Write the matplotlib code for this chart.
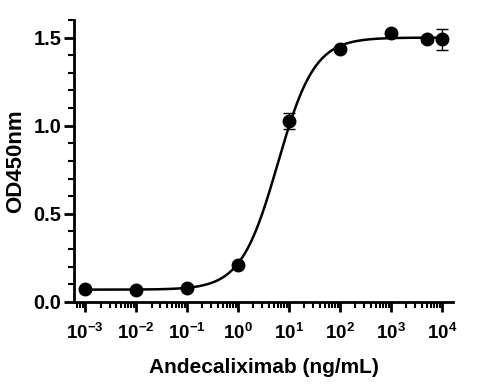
import numpy as np
import matplotlib
matplotlib.use("Agg")
import matplotlib.pyplot as plt
from matplotlib.ticker import LogLocator, MultipleLocator, NullFormatter, FixedLocator

conc = [1e-3, 1e-2, 1e-1, 1e0, 1e1, 1e2, 1e3, 5e3, 1e4]
od = [0.075, 0.070, 0.082, 0.212, 1.025, 1.435, 1.525, 1.490, 1.490]
err = [0.0, 0.0, 0.0, 0.0, 0.045, 0.0, 0.0, 0.015, 0.06]

# 4PL fit parameters
fit_bottom = 0.07
fit_top = 1.50
fit_ec50 = 6.0
fit_hill = 1.2

xtick_vals = [1e-3, 1e-2, 1e-1, 1e0, 1e1, 1e2, 1e3, 1e4]
xtick_labels = ['$10^{-3}$', '$10^{-2}$', '$10^{-1}$', '$10^{0}$',
                '$10^{1}$', '$10^{2}$', '$10^{3}$', '$10^{4}$']
ytick_vals = [0, 0.5, 1.0, 1.5]
ytick_labels = ['0.0', '0.5', '1.0', '1.5']

plt.rcParams['font.family'] = ['Liberation Sans', 'DejaVu Sans']
plt.rcParams['mathtext.fontset'] = 'custom'
plt.rcParams['mathtext.rm'] = 'Liberation Sans:bold'
plt.rcParams['mathtext.bf'] = 'Liberation Sans:bold'
plt.rcParams['mathtext.default'] = 'bf'

fig = plt.figure(figsize=(4.79, 3.89), dpi=100)
ax = fig.add_axes([0.1545, 0.2237, 0.7915, 0.725])

xs = np.logspace(-3, 4, 400)
ys = fit_bottom + (fit_top - fit_bottom) / (1 + (fit_ec50 / xs) ** fit_hill)
ax.plot(xs, ys, color='black', lw=1.8, zorder=2)
ax.errorbar(conc, od, yerr=err, fmt='o', color='black', ms=9, capsize=4,
            elinewidth=1.0, capthick=1.0, zorder=3)

ax.set_xscale('log')
ax.set_xlim(10 ** -3.22, 10 ** 4.22)
ax.set_ylim(0, 1.6)
ax.xaxis.set_major_locator(FixedLocator(xtick_vals))
ax.set_xticklabels(xtick_labels)
ax.xaxis.set_minor_locator(LogLocator(base=10, subs=np.arange(2, 10), numticks=20))
ax.xaxis.set_minor_formatter(NullFormatter())
ax.set_yticks(ytick_vals)
ax.set_yticklabels(ytick_labels)
ax.yaxis.set_minor_locator(MultipleLocator(0.1))

for s in ['top', 'right']:
    ax.spines[s].set_visible(False)
for s in ['left', 'bottom']:
    ax.spines[s].set_linewidth(2)

ax.tick_params(axis='both', which='major', length=7, width=2, direction='out')
ax.tick_params(axis='both', which='minor', length=4, width=1.5, direction='out')
ax.tick_params(axis='y', which='major', labelsize=14.5, pad=2)
ax.tick_params(axis='x', which='major', labelsize=13.5, pad=8)
for lab in ax.get_xticklabels() + ax.get_yticklabels():
    lab.set_fontweight('bold')

ax.set_xlabel('Andecaliximab (ng/mL)', fontsize=15, fontweight='bold', labelpad=11)
ax.set_ylabel('OD450nm', fontsize=16, fontweight='bold', labelpad=5)

fig.savefig('out.png', dpi=100)
